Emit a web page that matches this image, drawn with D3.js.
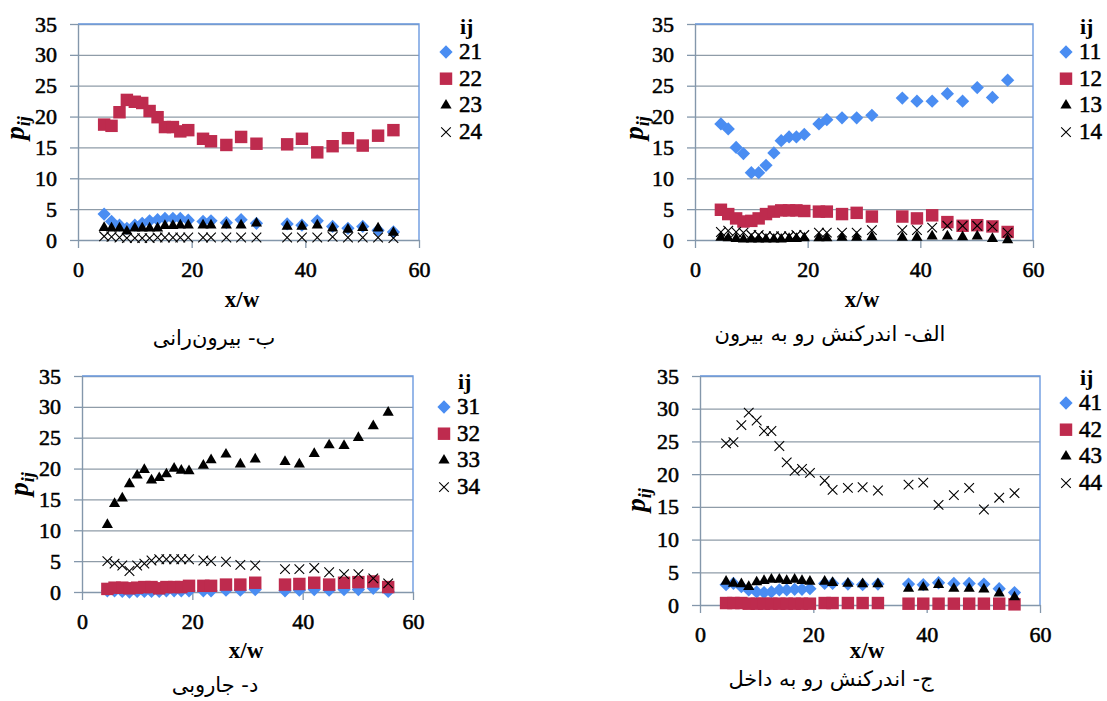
<!DOCTYPE html>
<html>
<head>
<meta charset="utf-8">
<script src="https://cdn.jsdelivr.net/npm/d3@7"></script>
<style>
  body { margin: 0; background: #fff; }
  svg { display: block; }
  .serif { font-family: "Liberation Serif", "Times New Roman", Times, serif; }
  .num { stroke: #000; stroke-width: 0.55px; }
</style>
</head>
<body>
<div id="chart"></div>
<script>
// shared x positions (x/w) of the measuring stations
const xs = [4.6, 5.9, 7.3, 8.6, 10.0, 11.3, 12.6, 14.0, 15.3, 16.7, 18.0, 19.4, 22.0, 23.4, 26.1, 28.7, 31.4, 36.8, 39.4, 42.1, 44.8, 47.5, 50.1, 52.8, 55.5];
const xTicks = [0, 20, 40, 60];
const yTicks = [0, 5, 10, 15, 20, 25, 30, 35];

// الف - outward interaction
const codesA = ['11', '12', '13', '14'];
const p11 = [18.8, 18.0, 15.0, 14.0, 10.9, 10.9, 12.1, 14.1, 16.1, 16.7, 16.7, 17.1, 18.8, 19.5, 19.8, 19.8, 20.2, 23.0, 22.5, 22.5, 23.7, 22.5, 24.7, 23.1, 25.9];
const p12 = [4.9, 4.2, 3.5, 3.0, 3.1, 3.5, 4.2, 4.6, 4.8, 4.8, 4.8, 4.7, 4.6, 4.6, 4.2, 4.4, 3.8, 3.8, 3.5, 4.0, 2.9, 2.3, 2.4, 2.2, 1.3];
const p13 = [0.4, 0.3, 0.2, 0.1, 0.1, 0.1, 0.1, 0.1, 0.1, 0.2, 0.2, 0.3, 0.3, 0.3, 0.4, 0.4, 0.5, 0.4, 0.4, 0.6, 0.6, 0.5, 0.6, 0.2, 0.0];
const p14 = [1.3, 1.5, 1.3, 1.2, 0.8, 0.8, 0.6, 0.6, 0.6, 0.6, 0.8, 0.8, 1.2, 1.2, 1.2, 1.2, 1.6, 1.6, 1.6, 2.0, 2.3, 2.3, 2.3, 2.2, 1.2];

// ب - ejection
const codesB = ['21', '22', '23', '24'];
const p21 = [4.2, 3.0, 2.4, 1.9, 2.4, 2.7, 3.1, 3.3, 3.5, 3.5, 3.5, 3.2, 3.0, 3.1, 2.8, 3.3, 2.7, 2.6, 2.4, 3.1, 2.2, 1.9, 2.2, 1.6, 1.3];
const p22 = [18.7, 18.5, 20.7, 22.7, 22.4, 22.2, 20.9, 19.9, 18.3, 18.3, 17.6, 17.8, 16.4, 16.0, 15.4, 16.7, 15.6, 15.5, 16.4, 14.2, 15.2, 16.5, 15.3, 16.9, 17.8];
const p23 = [2.0, 1.9, 1.9, 1.4, 1.9, 1.9, 1.9, 1.9, 2.3, 2.3, 2.4, 2.4, 2.4, 2.4, 2.4, 2.4, 2.7, 2.2, 2.2, 2.4, 1.9, 1.7, 2.0, 1.9, 1.2];
const p24 = [0.6, 0.5, 0.4, 0.3, 0.3, 0.3, 0.3, 0.4, 0.4, 0.4, 0.4, 0.4, 0.4, 0.4, 0.4, 0.4, 0.4, 0.4, 0.4, 0.4, 0.5, 0.4, 0.4, 0.4, 0.3];

// ج - inward interaction
const codesC = ['41', '42', '43', '44'];
const p41 = [3.1, 3.3, 2.8, 2.3, 2.0, 1.9, 2.0, 2.3, 2.3, 2.4, 2.4, 2.5, 3.3, 3.3, 3.2, 3.1, 3.2, 3.2, 3.1, 3.4, 3.3, 3.3, 3.2, 2.5, 1.9];
const p42 = [0.3, 0.3, 0.3, 0.2, 0.2, 0.2, 0.2, 0.2, 0.2, 0.2, 0.2, 0.2, 0.3, 0.3, 0.3, 0.3, 0.3, 0.2, 0.2, 0.2, 0.2, 0.2, 0.2, 0.2, 0.1];
const p43 = [3.6, 3.3, 3.2, 2.8, 3.5, 3.7, 3.9, 3.9, 3.7, 3.9, 3.7, 3.6, 3.6, 3.4, 3.3, 3.2, 3.2, 2.5, 2.7, 3.1, 2.5, 2.5, 2.4, 1.8, 1.2];
const p44 = [24.7, 24.9, 27.5, 29.4, 28.2, 26.6, 26.6, 24.3, 21.8, 20.5, 20.8, 20.2, 19.0, 17.6, 17.9, 18.0, 17.5, 18.4, 18.7, 15.3, 16.8, 17.9, 14.6, 16.4, 17.1];

// د - sweep
const codesD = ['31', '32', '33', '34'];
const p31 = [0.2, 0.2, 0.1, 0.0, 0.1, 0.1, 0.1, 0.1, 0.2, 0.2, 0.2, 0.2, 0.2, 0.2, 0.3, 0.3, 0.4, 0.2, 0.3, 0.4, 0.3, 0.4, 0.4, 0.6, 0.1];
const p32 = [0.5, 0.7, 0.7, 0.6, 0.7, 0.8, 0.8, 0.6, 0.8, 0.8, 0.8, 1.0, 1.0, 1.0, 1.2, 1.2, 1.5, 1.2, 1.3, 1.5, 1.2, 1.5, 1.6, 1.7, 0.8];
const p33 = [10.9, 14.3, 15.2, 17.5, 18.9, 19.8, 18.1, 18.5, 19.1, 20.0, 19.7, 19.6, 20.5, 21.4, 22.3, 20.7, 21.5, 21.1, 20.7, 22.4, 23.8, 23.7, 25.0, 26.9, 29.1];
const p34 = [5.0, 4.6, 4.3, 3.4, 4.3, 4.6, 5.1, 5.3, 5.3, 5.3, 5.3, 5.3, 5.1, 5.0, 4.9, 4.4, 4.3, 3.7, 3.7, 3.9, 3.2, 2.9, 2.9, 2.2, 1.4];

const captions = ['الف- اندرکنش رو به بیرون', 'ب- بیرون‌رانی', 'ج- اندرکنش رو به داخل', 'د- جاروبی'];

const W = 1107, H = 701;
const BLUE = '#4a8df2', RED = '#be2b4e';
const GRID = '#8f9ca8', BORDER = '#6c9ae0', AXIS = '#8497ab';

// one marker style per series slot
const markers = [
  { type: d3.symbolSquare, size: 88, rotate: 45, fill: BLUE },
  { type: d3.symbolSquare, size: 155, rotate: 0, fill: RED },
  { type: d3.symbolTriangle, size: 54, rotate: 0, fill: '#000' },
  { type: d3.symbolX, size: 62, rotate: 0, stroke: '#000' }
];

const panels = [
  { codes: codesB, series: [p21, p22, p23, p24], caption: captions[1],
    box: { l: 78, r: 419, t: 24, b: 240 }, legend: { x: 446, y: 27 },
    xlab: { x: 242, y: 307 }, ylab: { x: 24, y: 128 }, cap: { x: 214, y: 345 } },
  { codes: codesA, series: [p11, p12, p13, p14], caption: captions[0],
    box: { l: 695, r: 1033, t: 24, b: 240 }, legend: { x: 1066, y: 27 },
    xlab: { x: 862, y: 307 }, ylab: { x: 643, y: 128 }, cap: { x: 830, y: 341 } },
  { codes: codesD, series: [p31, p32, p33, p34], caption: captions[3],
    box: { l: 82, r: 413, t: 376, b: 592 }, legend: { x: 444, y: 382 },
    xlab: { x: 246, y: 658 }, ylab: { x: 28, y: 484 }, cap: { x: 215, y: 692 } },
  { codes: codesC, series: [p41, p42, p43, p44], caption: captions[2],
    box: { l: 700, r: 1040, t: 376, b: 605 }, legend: { x: 1066, y: 378 },
    xlab: { x: 867, y: 658 }, ylab: { x: 645, y: 500 }, cap: { x: 831, y: 686 } }
];

const svg = d3.select('#chart').append('svg')
  .attr('width', W).attr('height', H)
  .style('background', '#fff');

const symbolPath = (m) => d3.symbol().type(m.type).size(m.size)();

const drawMarker = (g, m, x, y) => {
  g.append('path')
    .attr('d', symbolPath(m))
    .attr('transform', `translate(${x},${y}) rotate(${m.rotate})`)
    .attr('fill', m.fill || 'none')
    .attr('stroke', m.stroke || 'none')
    .attr('stroke-width', m.stroke ? 1.1 : 0);
};

panels.forEach((p) => {
  const { l, r, t, b } = p.box;
  const x = d3.scaleLinear().domain([0, 60]).range([l, r]);
  const y = d3.scaleLinear().domain([0, 35]).range([b, t]);
  const g = svg.append('g');

  // gridlines
  g.append('g')
    .attr('transform', `translate(${l},0)`)
    .call(d3.axisLeft(y).tickValues(yTicks.slice(1)).tickSize(-(r - l)).tickFormat(''))
    .call(s => s.select('.domain').remove())
    .call(s => s.selectAll('line').attr('stroke', GRID).attr('stroke-width', 1.3));

  // plot border (top / right)
  g.append('path')
    .attr('d', `M${l},${t}H${r}V${b}`)
    .attr('fill', 'none').attr('stroke', BORDER).attr('stroke-width', 1.4);

  // y axis
  const ya = g.append('g')
    .attr('transform', `translate(${l},0)`)
    .call(d3.axisLeft(y).tickValues(yTicks).tickSize(8).tickPadding(13).tickSizeOuter(0))
    .attr('font-family', null).attr('font-size', null);
  ya.select('.domain').attr('stroke', AXIS).attr('stroke-width', 1.4);
  ya.selectAll('line').attr('stroke', AXIS).attr('stroke-width', 1.3);
  ya.selectAll('text').attr('class', 'serif num').style('font-size', '22px').attr('fill', '#000');

  // x axis
  const xa = g.append('g')
    .attr('transform', `translate(0,${b})`)
    .call(d3.axisBottom(x).tickValues(xTicks).tickSize(8).tickPadding(13).tickSizeOuter(0))
    .attr('font-family', null).attr('font-size', null);
  xa.select('.domain').attr('stroke', AXIS).attr('stroke-width', 1.4);
  xa.selectAll('line').attr('stroke', AXIS).attr('stroke-width', 1.3);
  xa.selectAll('text').attr('class', 'serif num').style('font-size', '22px').attr('fill', '#000');

  // points
  p.series.forEach((vals, i) => {
    const sg = g.append('g');
    vals.forEach((v, j) => drawMarker(sg, markers[i], x(xs[j]), y(v)));
  });

  // axis titles
  g.append('text')
    .attr('class', 'serif')
    .attr('x', p.xlab.x).attr('y', p.xlab.y)
    .attr('text-anchor', 'middle')
    .style('font-weight', 'bold').style('font-size', '23px')
    .text('x/w');

  const yl = g.append('text')
    .attr('class', 'serif')
    .attr('transform', `translate(${p.ylab.x},${p.ylab.y}) rotate(-90)`)
    .attr('text-anchor', 'middle')
    .style('font-weight', 'bold').style('font-style', 'italic');
  yl.append('tspan').style('font-size', '27px').text('p');
  yl.append('tspan').style('font-size', '18px').attr('dy', 6).text('ij');

  // legend
  const lg = g.append('g').attr('transform', `translate(${p.legend.x},${p.legend.y})`);
  lg.append('text')
    .attr('class', 'serif')
    .attr('x', 14).attr('y', 7)
    .style('font-weight', 'bold').style('font-size', '22px')
    .text('ij');
  p.codes.forEach((c, i) => {
    const cy = 25 + i * 26.7;
    drawMarker(lg, markers[i], 0, cy);
    lg.append('text')
      .attr('class', 'serif num')
      .attr('x', 13).attr('y', cy + 7)
      .style('font-size', '23px')
      .text(c);
  });

  // caption
  g.append('text')
    .attr('x', p.cap.x).attr('y', p.cap.y)
    .attr('text-anchor', 'middle')
    .attr('direction', 'rtl')
    .style('font-family', '"DejaVu Sans", sans-serif').style('font-size', '21px')
    .text(p.caption);
});
</script>
</body>
</html>
